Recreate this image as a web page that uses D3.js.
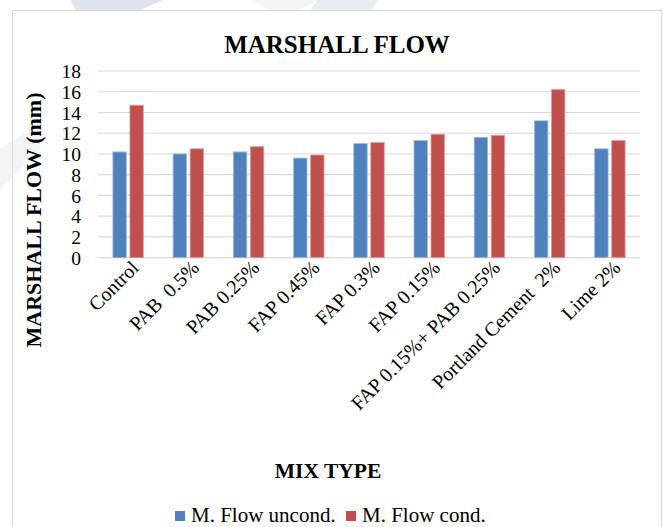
<!DOCTYPE html>
<html>
<head>
<meta charset="utf-8">
<script src="https://cdn.jsdelivr.net/npm/d3@7"></script>
<style>
  html, body { margin: 0; padding: 0; background: #fff; }
  svg { display: block; }
  text { font-family: "Liberation Serif", "Times New Roman", serif; fill: #000; }
</style>
</head>
<body>
<svg id="chart" width="663" height="527"></svg>
<script>
// Marshall flow (mm) for each mix type, unconditioned vs conditioned
const categories = [
  "Control", "PAB  0.5%", "PAB 0.25%", "FAP 0.45%", "FAP 0.3%",
  "FAP 0.15%", "FAP 0.15%+ PAB 0.25%", "Portland Cement  2%", "Lime 2%"
];
const seriesNames = ["M. Flow uncond.", "M. Flow cond."];
const flowUncond = [10.2, 10.0, 10.2, 9.6, 11.0, 11.3, 11.6, 13.2, 10.5];
const flowCond   = [14.7, 10.5, 10.7, 9.9, 11.1, 11.9, 11.8, 16.2, 11.3];
const seriesColors = ["#4F81BD", "#C0504D"];
const yTicks = [0, 2, 4, 6, 8, 10, 12, 14, 16, 18];

const seriesValues = [flowUncond, flowCond];
const rows = categories.map((c, i) => ({
  category: c,
  values: seriesNames.map((s, j) => ({ series: s, idx: j, value: seriesValues[j][i] }))
}));

const svg = d3.select("#chart");

// faint background emblem shapes
const wm = svg.append("g").attr("fill", "#d9e1e9");
wm.append("polygon").attr("points", "70,0 163,0 140,10 76,10").attr("opacity", 0.9);
wm.append("polygon").attr("points", "253,0 318,0 300,10 268,10").attr("opacity", 0.35);
wm.append("polygon").attr("points", "318,0 378,0 372,10 310,10").attr("opacity", 0.6);

// chart frame
svg.append("rect")
  .attr("x", 12.5).attr("y", 10.5)
  .attr("width", 649).attr("height", 540)
  .attr("fill", "#fff")
  .attr("stroke", "#d9d9d9").attr("stroke-width", 1);

// faint emblem band behind the left axis title
svg.append("polygon")
  .attr("points", "0,150 40,122 40,150 0,190")
  .attr("fill", "#d9e1e9").attr("opacity", 0.35);

const x0 = d3.scaleBand().domain(categories).range([98, 640]).paddingInner(0).paddingOuter(0);
const x1 = d3.scaleBand().domain(seriesNames).range([0, x0.bandwidth()])
  .paddingInner(0.21).paddingOuter(0.875);
const y = d3.scaleLinear().domain([0, 18]).range([257.7, 71]);

// gridlines
svg.append("g")
  .selectAll("line").data(yTicks).join("line")
  .attr("x1", 98).attr("x2", 640)
  .attr("y1", d => y(d)).attr("y2", d => y(d))
  .attr("stroke", "#d9d9d9").attr("stroke-width", 1.2);

// y axis labels
const yAxis = d3.axisLeft(y).tickValues(yTicks).tickSize(0).tickPadding(0);
const yg = svg.append("g").attr("transform", "translate(81,0)").call(yAxis);
yg.select(".domain").remove();
yg.selectAll("text")
  .attr("font-size", 19.5)
  .attr("dy", "0.34em")
  .attr("fill", "#000");

// bars
const groups = svg.append("g").selectAll("g").data(rows).join("g")
  .attr("transform", d => `translate(${x0(d.category)},0)`);
groups.selectAll("rect").data(d => d.values).join("rect")
  .attr("x", d => x1(d.series))
  .attr("width", x1.bandwidth())
  .attr("y", d => y(d.value))
  .attr("height", d => y(0) - y(d.value))
  .attr("fill", d => seriesColors[d.idx])
  .attr("stroke", d => d3.interpolateRgb(seriesColors[d.idx], "#fff")(0.45))
  .attr("stroke-width", 0.8);

// category labels, rotated
svg.append("g").selectAll("text").data(categories).join("text")
  .attr("transform", d => `translate(${x0(d) + x0.bandwidth() / 2 + 7},264) rotate(-45)`)
  .attr("text-anchor", "end")
  .attr("dy", "0.35em")
  .attr("font-size", 20)
  .style("white-space", "pre")
  .text(d => d);

// title
svg.append("text")
  .attr("x", 337).attr("y", 53)
  .attr("text-anchor", "middle")
  .attr("font-size", 25).attr("font-weight", "bold")
  .text("MARSHALL FLOW");

// y axis title
svg.append("text")
  .attr("transform", "translate(33,220) rotate(-90)")
  .attr("text-anchor", "middle")
  .attr("dy", "0.35em")
  .attr("font-size", 22).attr("font-weight", "bold")
  .text("MARSHALL FLOW (mm)");

// x axis title
svg.append("text")
  .attr("x", 328).attr("y", 478)
  .attr("text-anchor", "middle")
  .attr("font-size", 21.5).attr("font-weight", "bold")
  .text("MIX TYPE");

// legend
const legendX = [175, 346];
const legend = svg.append("g").selectAll("g").data(seriesNames).join("g")
  .attr("transform", (d, i) => `translate(${legendX[i]},0)`);
legend.append("rect")
  .attr("x", 0).attr("y", 511).attr("width", 10).attr("height", 10)
  .attr("fill", (d, i) => seriesColors[i]);
legend.append("text")
  .attr("x", 16).attr("y", 522)
  .attr("font-size", 21)
  .text(d => d);
</script>
</body>
</html>
